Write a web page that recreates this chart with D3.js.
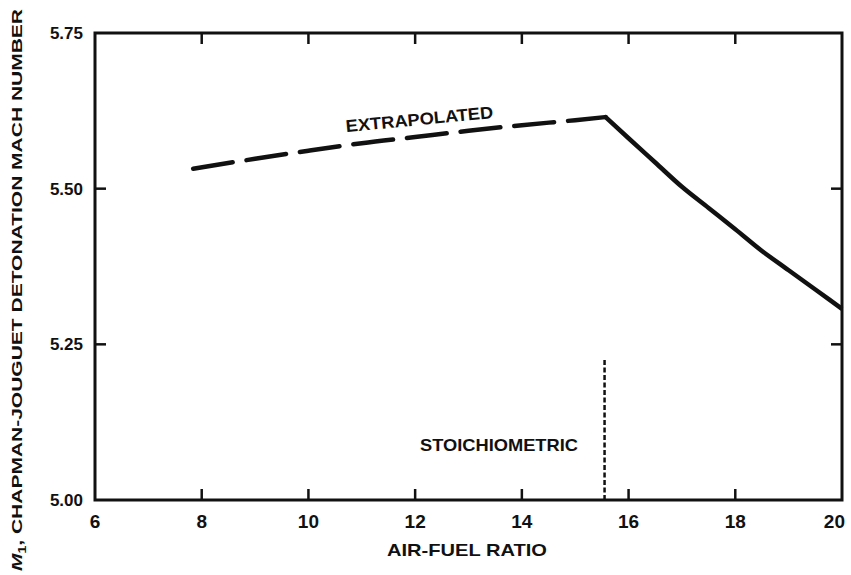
<!DOCTYPE html>
<html><head><meta charset="utf-8">
<script src="https://cdn.jsdelivr.net/npm/d3@7"></script>
<style>body{margin:0;background:#fff}svg{display:block}text{font-family:"Liberation Sans",Arial,sans-serif;font-weight:bold;fill:#111}</style>
</head><body>
<script>
const xTicks = [6, 8, 10, 12, 14, 16, 18, 20];
const yTicks = [5.00, 5.25, 5.50, 5.75];
const extrapolatedX = [7.84, 9, 10, 11, 12, 13, 14, 15, 15.57];
const extrapolatedY = [5.532, 5.548, 5.561, 5.573, 5.583, 5.593, 5.602, 5.610, 5.615];
const computedX = [15.57, 16, 16.5, 17, 17.5, 18, 18.5, 19, 19.5, 20];
const computedY = [5.615, 5.581, 5.542, 5.503, 5.469, 5.435, 5.400, 5.369, 5.338, 5.307];
const stoichX = 15.55;
const stoichRange = [5.00, 5.228];

const W = 851, H = 575;
const m = {l: 95, r: 9, t: 33, b: 75};
const svg = d3.select("body").append("svg").attr("width", W).attr("height", H);
const x = d3.scaleLinear().domain([6, 20]).range([m.l, W - m.r]);
const y = d3.scaleLinear().domain([5.00, 5.75]).range([H - m.b, m.t]);

const g = svg.append("g");
g.append("rect").attr("x", x(6)).attr("y", y(5.75)).attr("width", x(20) - x(6)).attr("height", y(5.0) - y(5.75))
  .attr("fill", "none").attr("stroke", "#111").attr("stroke-width", 3);

const tickLen = 11;
xTicks.slice(1, -1).forEach(v => {
  g.append("line").attr("x1", x(v)).attr("x2", x(v)).attr("y1", y(5.0)).attr("y2", y(5.0) - tickLen).attr("stroke", "#111").attr("stroke-width", 2.5);
  g.append("line").attr("x1", x(v)).attr("x2", x(v)).attr("y1", y(5.75)).attr("y2", y(5.75) + tickLen).attr("stroke", "#111").attr("stroke-width", 2.5);
});
yTicks.slice(1, -1).forEach(v => {
  g.append("line").attr("x1", x(6)).attr("x2", x(6) + tickLen).attr("y1", y(v)).attr("y2", y(v)).attr("stroke", "#111").attr("stroke-width", 2.5);
  g.append("line").attr("x1", x(20)).attr("x2", x(20) - tickLen).attr("y1", y(v)).attr("y2", y(v)).attr("stroke", "#111").attr("stroke-width", 2.5);
});
xTicks.forEach((v, i) => {
  const last = i === xTicks.length - 1;
  g.append("text").attr("x", last ? x(v) + 3 : x(v)).attr("y", y(5.0) + 28)
    .attr("text-anchor", last ? "end" : "middle").attr("font-size", 19).text(v);
});
yTicks.forEach(v => {
  g.append("text").attr("x", x(6) - 12).attr("y", y(v) + 6).attr("text-anchor", "end").attr("font-size", 17).text(v.toFixed(2));
});

g.append("text").attr("x", 467).attr("y", 556).attr("text-anchor", "middle").attr("font-size", 17)
  .attr("textLength", 160).attr("lengthAdjust", "spacingAndGlyphs").text("AIR-FUEL RATIO");
const yt = g.append("text").attr("transform", "translate(22,290) rotate(-90)").attr("text-anchor", "middle").attr("font-size", 15)
  .attr("textLength", 562).attr("lengthAdjust", "spacingAndGlyphs");
yt.append("tspan").attr("font-style", "italic").text("M");
yt.append("tspan").attr("font-size", 10).attr("dy", 4).text("1");
yt.append("tspan").attr("dy", -4).text(", CHAPMAN-JOUGUET DETONATION MACH NUMBER");

const line = d3.line().x(d => x(d[0])).y(d => y(d[1])).curve(d3.curveMonotoneX);
g.append("path").datum(extrapolatedX.map((v, i) => [v, extrapolatedY[i]]))
  .attr("d", line).attr("fill", "none").attr("stroke", "#111").attr("stroke-width", 4.5)
  .attr("stroke-linecap", "round").attr("stroke-dasharray", "40 14");
g.append("path").datum(computedX.map((v, i) => [v, computedY[i]]))
  .attr("d", line).attr("fill", "none").attr("stroke", "#111").attr("stroke-width", 4.5)
  .attr("stroke-linejoin", "round");

g.append("line").attr("x1", x(stoichX)).attr("x2", x(stoichX)).attr("y1", y(stoichRange[0])).attr("y2", y(stoichRange[1]))
  .attr("stroke", "#111").attr("stroke-width", 2.5).attr("stroke-dasharray", "5 2.5");
g.append("text").attr("x", 499).attr("y", 451).attr("text-anchor", "middle").attr("font-size", 17)
  .attr("textLength", 158).attr("lengthAdjust", "spacingAndGlyphs").text("STOICHIOMETRIC");
g.append("text").attr("transform", "translate(420,125) rotate(-5.5)").attr("text-anchor", "middle").attr("font-size", 17)
  .attr("textLength", 148).attr("lengthAdjust", "spacingAndGlyphs").text("EXTRAPOLATED");
</script>
</body></html>
